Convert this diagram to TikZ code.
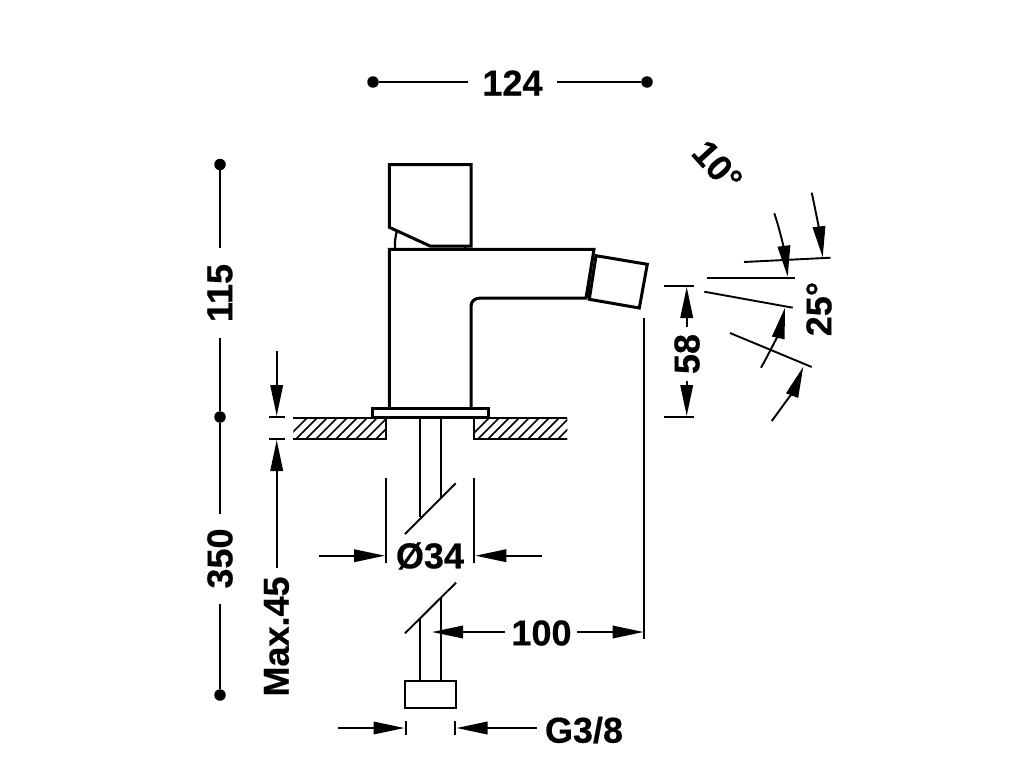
\documentclass[tikz,border=0pt]{standalone}
\usepackage{fontspec}
\setmainfont{Liberation Sans}
\newfontfamily\dimfont[FakeBold=0.5]{Liberation Sans Bold}
\usetikzlibrary{arrows.meta}
\tikzset{
  x=1pt,y=-1pt,
  body/.style={line width=3pt,line join=miter},
  thin body/.style={line width=2.2pt},
  dim/.style={line width=1.9pt},
  arr/.style={dim,-{Triangle[length=31pt,width=12.5pt]}},
  lab/.style={font=\fontsize{36}{36}\selectfont\dimfont,inner sep=0pt,text=black},
  dot/.style={circle,fill=black,inner sep=0pt,minimum size=11.5pt},
  hatch/.style={line width=1.5pt}
}
\begin{document}
\begin{tikzpicture}
\useasboundingbox (0,0) rectangle (1024,768);
% top dimension
\node[dot] (t1) at (373,82) {};
\node[dot] (t2) at (647,82) {};
\node[lab] (t124) at (512.5,83) {124};
\draw[dim] (t1) -- (468,82);
\draw[dim] (557,82) -- (t2);
% left dimension
\node[dot] (l1) at (220,164.5) {};
\node[dot] (l2) at (220,417) {};
\node[dot] (l3) at (220,695) {};
\node[lab,rotate=90] (l115) at (220,293) {115};
\node[lab,rotate=90] (l350) at (220,558.5) {350};
\draw[dim] (l1) -- (220,248);
\draw[dim] (220,338) -- (l2);
\draw[dim] (l2) -- (220,514);
\draw[dim] (220,604) -- (l3);
% handle
\draw[body] (389.3,227.3) -- (389.3,164.7) -- (471,164.7) -- (471,246) -- (430,246) -- cycle;
\draw[thin body] (396.7,231.7) to[bend right=8] (395,249);
\draw[thin body] (465.5,246) -- (465.5,249);
% spout
\draw[body] (389.3,408.3) -- (389.3,249.3) -- (594,249.3) -- (586,298) -- (481,298)
  .. controls (475,298) and (471,301) .. (471,306) -- (471,408.3);
\draw[line width=1.9pt] (591.5,267) -- (587.5,298);
% aerator
\draw[body] (596,255.7) -- (647.3,264.3) -- (639.3,308) -- (589.3,299.3) -- cycle;
% flange
\draw[body] (372.7,408.3) rectangle (488.3,417.3);
% deck
\begin{scope}
\clip (293.3,417.7) rectangle (386,439);
\foreach \i in {0,...,13} \draw[hatch] (280+\i*10,445) -- (280+\i*10+30,415);
\end{scope}
\begin{scope}
\clip (474.3,417.7) rectangle (567.3,439);
\foreach \i in {0,...,13} \draw[hatch] (462+\i*10,445) -- (462+\i*10+30,415);
\end{scope}
\draw[thin body] (293.3,417.7) -- (386,417.7) -- (386,439) -- (293.3,439);
\draw[thin body] (567.3,417.7) -- (474.3,417.7) -- (474.3,439) -- (567.3,439);
% pipe
\draw[thin body] (420,418) -- (420,517);
\draw[thin body] (441,418) -- (441,497);
\draw[dim] (405,534) -- (455.7,483.3);
\draw[dim] (405,633.3) -- (456,582.7);
\draw[thin body] (420,619) -- (420,681);
\draw[thin body] (440.7,598) -- (440.7,681);
\draw[thin body] (405,681) rectangle (455.7,708);
% G3/8
\draw[dim] (405.7,720.7) -- (405.7,735);
\draw[dim] (455.3,720.7) -- (455.3,735);
\draw[arr] (338,728) -- (404.5,728);
\draw[arr] (536.7,728) -- (456.5,728);
\node[lab] (g) at (584,730) {G3/8};
% 100
\node[lab] (h) at (541.5,633) {100};
\draw[arr] (505,632) -- (432,632);
\draw[arr] (577,632) -- (643.5,632);
\draw[dim] (644.3,318.3) -- (644.3,639);
% dia 34
\draw[dim] (386,478) -- (386,562.7);
\draw[dim] (474.3,478) -- (474.3,562.7);
\draw[arr] (319.3,555.7) -- (385,555.7);
\draw[arr] (541.7,555.7) -- (475.3,555.7);
\node[lab] (d) at (430,556) {Ø34};
% Max.45
\draw[dim] (269,417.3) -- (285,417.3);
\draw[dim] (269,439) -- (285,439);
\draw[arr] (276.7,350.7) -- (276.7,416);
\draw[arr] (276.7,568) -- (276.7,440);
\node[lab,rotate=90] (m) at (276.5,636.5) {Max.45};
% 58
\draw[dim] (664,286) -- (694,286);
\draw[dim] (664,417) -- (694,417);
\draw[arr] (686.7,327.3) -- (686.7,287);
\draw[arr] (686.7,380.7) -- (686.7,416);
\node[lab,rotate=90] (f) at (687,354) {58};
% angles
\draw[dim] (706.7,277.7) -- (795.3,277.7);
\draw[dim] (744,262) -- (830.7,257.7);
\draw[dim] (704.3,291.7) -- (792.7,307.7);
\draw[dim] (730,333) -- (811.7,367);
\draw[arr] (774.3,213.3) .. controls (781,233) and (785,255) .. (787.7,276.7);
\draw[arr] (811.7,192.7) .. controls (816,212) and (820,235) .. (822.7,257.3);
\draw[arr] (761,367.7) .. controls (771,350) and (780,330) .. (785,307.7);
\draw[arr] (771.7,421) .. controls (783,406) and (795,388) .. (803.3,366.7);
\node[lab,rotate=-48] (ten) at (717.5,166) {10°};
\node[lab,rotate=90] (tf) at (819,309) {25°};
\end{tikzpicture}
\end{document}
